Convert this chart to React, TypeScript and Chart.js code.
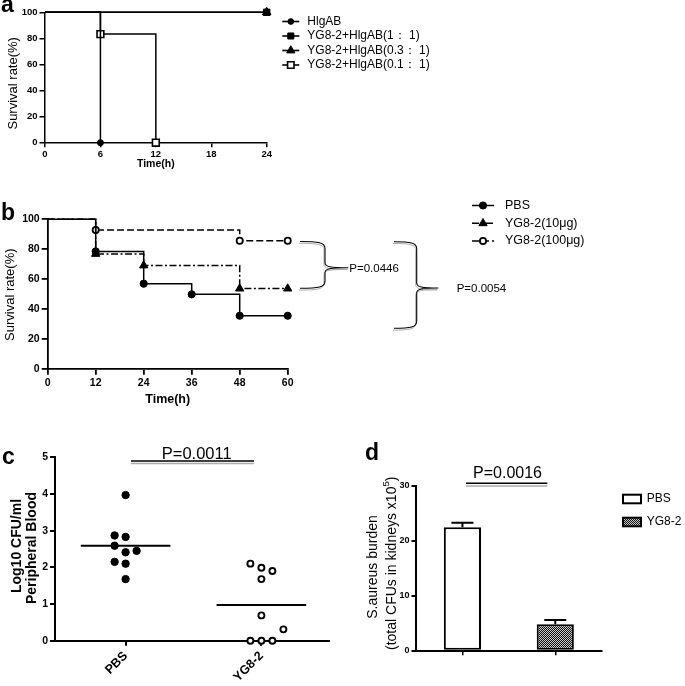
import React, { useEffect, useRef } from 'react';
import { Chart, registerables } from 'chart.js';
Chart.register(...registerables);

const FONT = "'Liberation Sans', Arial, Helvetica, sans-serif";

// ---------------- Panel a data ----------------
const aTimeStep = 6;
const aLabels = ['HlgAB', 'YG8-2+HlgAB(1： 1)', 'YG8-2+HlgAB(0.3： 1)', 'YG8-2+HlgAB(0.1： 1)'];
const aHlgABTime = [0, 6];
const aHlgABSurv = [100, 0];
const a11Time = [0, 24];
const a11Surv = [100, 100];
const a03Time = [0, 24];
const a03Surv = [100, 100];
const a01Time = [0, 6, 12];
const a01Surv = [100, 83.3, 0];

// ---------------- Panel b data ----------------
const bLabels = ['PBS', 'YG8-2(10μg)', 'YG8-2(100μg)'];
const bPBSTime = [0, 12, 24, 36, 48, 60];
const bPBSSurv = [100, 78.6, 57.1, 50, 35.7, 35.7];
const b10Time = [0, 12, 24, 48, 60];
const b10Surv = [100, 76.9, 69.2, 53.8, 53.8];
const b100Time = [0, 12, 48, 60];
const b100Surv = [100, 92.9, 85.7, 85.7];
const bPvals = ['P=0.0446', 'P=0.0054'];

// ---------------- Panel c data ----------------
const cGroups = ['PBS', 'YG8-2'];
const cPBS = [3.97, 2.87, 2.83, 2.59, 2.41, 2.45, 2.15, 2.1, 1.68];
const cPBSCol = [0, -1, 0, -1, 0, 1, -1, 0, 0];
const cYG = [2.1, 1.99, 1.9, 1.68, 0.69, 0.31, 0, 0, 0];
const cYGCol = [-1, 0, 1, 0, 0, 2, -1, 0, 1];
const cMeans = [2.59, 0.97];
const cPval = 'P=0.0011';

// ---------------- Panel d data ----------------
const dGroups = ['PBS', 'YG8-2'];
const dMeans = [22.5, 4.8];
const dSEM = [0.8, 0.8];
const dPval = 'P=0.0016';

// ---------------- helpers ----------------
function drawMarker(ctx: any, style: string, x: number, y: number, r: number, filled: boolean, lw: number) {
  ctx.save();
  ctx.beginPath();
  if (style === 'circle') ctx.arc(x, y, r, 0, Math.PI * 2);
  else if (style === 'rect') {
    const s = r * Math.SQRT1_2;
    ctx.rect(x - s, y - s, 2 * s, 2 * s);
  } else if (style === 'triangle') {
    let a = 0;
    ctx.moveTo(x + Math.sin(a) * r, y - Math.cos(a) * r);
    a += (2 * Math.PI) / 3;
    ctx.lineTo(x + Math.sin(a) * r, y - Math.cos(a) * r);
    a += (2 * Math.PI) / 3;
    ctx.lineTo(x + Math.sin(a) * r, y - Math.cos(a) * r);
    ctx.closePath();
  }
  ctx.fillStyle = filled ? '#000' : '#fff';
  ctx.fill();
  ctx.lineWidth = lw;
  ctx.strokeStyle = '#000';
  ctx.stroke();
  ctx.restore();
}

function km(label: string, times: number[], survs: number[], style: string, filled: boolean, r: number, bw: number, dash: number[], lw = 1.5) {
  return {
    label,
    data: times.map((t, i) => ({ x: t, y: survs[i] })),
    stepped: 'before',
    borderColor: '#000',
    borderWidth: lw,
    borderDash: dash,
    pointStyle: style,
    pointRadius: times.map((_, i) => (i === 0 ? 0 : r)),
    pointHoverRadius: 0,
    pointBackgroundColor: filled ? '#000' : '#fff',
    pointBorderColor: '#000',
    pointBorderWidth: bw,
    fill: false,
    clip: false,
    _style: style,
    _filled: filled,
    _r: r,
    _bw: bw,
  };
}

function ax(size: number, tickLen: number, pad: number, bw: number, extraTicks: any = {}) {
  return {
    grid: { display: true, drawOnChartArea: false, drawTicks: true, tickLength: tickLen, color: '#000', lineWidth: bw },
    border: { display: true, color: '#000', width: bw },
    ticks: { color: '#000', font: { family: FONT, size, weight: 'bold' }, padding: pad, autoSkip: false, ...extraTicks },
  };
}

function annot(ox: number, oy: number, fn: (ctx: any, chart: any) => void) {
  return {
    id: 'annot',
    afterDraw(chart: any) {
      const ctx = chart.ctx;
      ctx.save();
      ctx.translate(-ox, -oy);
      fn(ctx, chart);
      ctx.restore();
    },
  };
}

function text(ctx: any, s: string, x: number, y: number, font: string, align = 'left', baseline = 'middle') {
  ctx.save();
  ctx.font = font;
  ctx.fillStyle = '#000';
  ctx.textAlign = align;
  ctx.textBaseline = baseline;
  ctx.fillText(s, x, y);
  ctx.restore();
}

function vText(ctx: any, s: string, x: number, y: number, font: string) {
  ctx.save();
  ctx.translate(x, y);
  ctx.rotate(-Math.PI / 2);
  ctx.font = font;
  ctx.fillStyle = '#000';
  ctx.textAlign = 'center';
  ctx.textBaseline = 'middle';
  ctx.fillText(s, 0, 0);
  ctx.restore();
}

function line(ctx: any, x1: number, y1: number, x2: number, y2: number, color: string, lw: number, dash: number[] = []) {
  ctx.save();
  ctx.beginPath();
  ctx.setLineDash(dash);
  ctx.moveTo(x1, y1);
  ctx.lineTo(x2, y2);
  ctx.strokeStyle = color;
  ctx.lineWidth = lw;
  ctx.stroke();
  ctx.restore();
}

function bracePath(ctx: any, xl: number, yt: number, yb: number, xs: number, xt: number, yTip: number) {
  ctx.beginPath();
  ctx.moveTo(xl, yt);
  ctx.bezierCurveTo(xs - 6, yt, xs, yt + 1, xs, yt + 7);
  ctx.lineTo(xs, yTip - 5);
  ctx.bezierCurveTo(xs, yTip - 1, xs + 5, yTip, xt, yTip);
  ctx.bezierCurveTo(xs + 5, yTip, xs, yTip + 1, xs, yTip + 5);
  ctx.lineTo(xs, yb - 7);
  ctx.bezierCurveTo(xs, yb - 1, xs - 6, yb, xl, yb);
  ctx.stroke();
}

function brace(ctx: any, xl: number, yt: number, yb: number, xs: number, xt: number, yTip: number) {
  ctx.save();
  ctx.translate(-1, 1.8);
  ctx.strokeStyle = '#aaa';
  ctx.lineWidth = 1;
  bracePath(ctx, xl, yt, yb, xs, xt, yTip);
  ctx.restore();
  ctx.save();
  ctx.strokeStyle = '#000';
  ctx.lineWidth = 1.1;
  bracePath(ctx, xl, yt, yb, xs, xt, yTip);
  ctx.restore();
}

function panelLabel(ctx: any, s: string, x: number, y: number) {
  text(ctx, s, x, y, `bold 23px ${FONT}`, 'left', 'alphabetic');
}

const baseOpts = {
  responsive: false,
  animation: false,
  events: [],
  plugins: { legend: { display: false }, tooltip: { enabled: false } },
};

// ---------------- Panel a ----------------
function configA(): any {
  const ds = [
    km(aLabels[0], aHlgABTime, aHlgABSurv, 'circle', true, 3, 1, []),
    km(aLabels[2], a03Time, a03Surv, 'triangle', true, 5, 1, []),
    km(aLabels[1], a11Time, a11Surv, 'rect', true, 4.5, 1, []),
    km(aLabels[3], a01Time, a01Surv, 'rect', false, 4.8, 1.6, []),
  ];
  const legendOrder = [0, 2, 1, 3];
  const legY = [21.5, 36, 50.5, 65];
  return {
    type: 'line',
    data: { datasets: ds },
    options: {
      ...baseOpts,
      layout: { padding: { left: 0, top: 12.3, right: 418.3, bottom: 0 } },
      scales: {
        x: {
          type: 'linear', min: 0, max: 24,
          ...ax(9.5, 4.5, 1, 1.5, { stepSize: aTimeStep, maxRotation: 0 }),
          afterFit: (s: any) => { s.height = 32.3; },
        },
        y: {
          type: 'linear', min: 0, max: 100,
          ...ax(9.5, 5.5, 2, 1.5, { stepSize: 20 }),
          afterFit: (s: any) => { s.width = 45; },
        },
      },
    },
    plugins: [annot(0, 0, (ctx) => {
      panelLabel(ctx, 'a', 1, 12);
      vText(ctx, 'Survival rate(%)', 13.3, 83.3, `13px ${FONT}`);
      text(ctx, 'Time(h)', 155.8, 164, `bold 10.5px ${FONT}`, 'center');
      legendOrder.forEach((di, k) => {
        const d: any = ds[di];
        const y = legY[k];
        line(ctx, 282.3, y, 299.3, y, '#000', 1.6);
        drawMarker(ctx, d._style, 290.8, y, d._r * 0.95, d._filled, d._bw);
        text(ctx, d.label, 307.3, y, `12px ${FONT}`);
      });
    })],
  };
}

// ---------------- Panel b ----------------
function configB(): any {
  const dashes = [[], [7, 2.5, 2, 2.5], [7, 3]];
  const ds = [
    km(bLabels[0], bPBSTime, bPBSSurv, 'circle', true, 3.6, 1, dashes[0]),
    km(bLabels[1], b10Time, b10Surv, 'triangle', true, 4.8, 1, dashes[1]),
    km(bLabels[2], b100Time, b100Surv, 'circle', false, 3.1, 1.8, dashes[2]),
  ];
  const OY = 175;
  const legY = [205.5, 223.3, 241];
  return {
    type: 'line',
    data: { datasets: ds },
    options: {
      ...baseOpts,
      layout: { padding: { left: 0, top: 219.3 - OY, right: 685 - 287.7, bottom: 0 } },
      scales: {
        x: {
          type: 'linear', min: 0, max: 60,
          ...ax(10.5, 5.5, 2, 1.8, { stepSize: 12, maxRotation: 0 }),
          afterFit: (s: any) => { s.height = 235 - (369.3 - OY); },
        },
        y: {
          type: 'linear', min: 0, max: 100,
          ...ax(10.5, 6, 2, 1.8, { stepSize: 20 }),
          afterFit: (s: any) => { s.width = 47.7; },
        },
      },
    },
    plugins: [annot(0, OY, (ctx) => {
      panelLabel(ctx, 'b', 1, 220);
      vText(ctx, 'Survival rate(%)', 10.5, 294.7, `13px ${FONT}`);
      text(ctx, 'Time(h)', 167.7, 400, `bold 12.5px ${FONT}`, 'center');
      ds.forEach((d: any, k) => {
        const y = legY[k];
        line(ctx, 472, y, 494, y, '#000', 1.5, dashes[k]);
        drawMarker(ctx, d._style, 483, y, d._r, d._filled, d._bw);
        text(ctx, bLabels[k], 505, y, `12.5px ${FONT}`);
      });
      brace(ctx, 300, 241.5, 288.3, 325, 348.3, 267.7);
      brace(ctx, 394, 241.7, 328.3, 416.7, 438.3, 288);
      text(ctx, bPvals[0], 349.3, 272, `11.5px ${FONT}`, 'left', 'alphabetic');
      text(ctx, bPvals[1], 456.7, 291.7, `11.5px ${FONT}`, 'left', 'alphabetic');
    })],
  };
}

// ---------------- Panel c ----------------
function configC(): any {
  const OY = 410;
  const J = 0.081;
  const half = 0.33;
  const meanLine = (g: number, m: number) => [{ x: g - half, y: m }, { x: g + half, y: m }];
  return {
    type: 'scatter',
    data: {
      datasets: [
        { type: 'line', data: meanLine(1, cMeans[0]), borderColor: '#000', borderWidth: 2, pointRadius: 0, clip: false, showLine: true },
        { type: 'line', data: meanLine(2, cMeans[1]), borderColor: '#000', borderWidth: 2, pointRadius: 0, clip: false, showLine: true },
        {
          data: cPBS.map((v, i) => ({ x: 1 + cPBSCol[i] * J, y: v })),
          pointRadius: 3.7, pointBackgroundColor: '#000', pointBorderColor: '#000', pointBorderWidth: 1, clip: false, pointHoverRadius: 0,
        },
        {
          data: cYG.map((v, i) => ({ x: 2 + cYGCol[i] * J, y: v })),
          pointRadius: 3, pointBackgroundColor: '#fff', pointBorderColor: '#000', pointBorderWidth: 1.9, clip: false, pointHoverRadius: 0,
        },
      ],
    },
    options: {
      ...baseOpts,
      layout: { padding: { left: 0, top: 457.3 - OY, right: 335 - 329.3, bottom: 0 } },
      scales: {
        x: {
          type: 'linear', min: 0.48, max: 2.5,
          ...ax(12.5, 5, 3, 2, { minRotation: 45, maxRotation: 45, callback: (v: number) => cGroups[Math.round(v) - 1] }),
          afterBuildTicks: (s: any) => { s.ticks = cGroups.map((_, i) => ({ value: i + 1 })); },
          afterFit: (s: any) => { s.height = 276 - (640.7 - OY); },
        },
        y: {
          type: 'linear', min: 0, max: 5,
          ...ax(10.5, 5, 2, 2, { stepSize: 1 }),
          afterFit: (s: any) => { s.width = 55; },
        },
      },
    },
    plugins: [annot(0, OY, (ctx) => {
      panelLabel(ctx, 'c', 2, 463.5);
      vText(ctx, 'Log10 CFU/ml', 16.7, 546, `bold 14px ${FONT}`);
      vText(ctx, 'Peripheral Blood', 31.7, 548, `bold 14px ${FONT}`);
      text(ctx, cPval, 196.7, 458.5, `16.5px ${FONT}`, 'center', 'alphabetic');
      line(ctx, 131, 461, 254, 461, '#000', 1.5);
      line(ctx, 131, 463.6, 254, 463.6, '#aaa', 1.5);
    })],
  };
}

// ---------------- Panel d ----------------
function configD(pattern: any): any {
  const OX = 335;
  const OY = 410;
  return {
    type: 'bar',
    data: {
      labels: dGroups,
      datasets: [{
        data: dMeans,
        backgroundColor: ['#fff', pattern],
        borderColor: '#000',
        borderWidth: 2,
        borderSkipped: false,
        barPercentage: 0.4,
        categoryPercentage: 1,
      }],
    },
    options: {
      ...baseOpts,
      layout: { padding: { left: 0, top: 486 - OY, right: 350 - (601.7 - OX), bottom: 0 } },
      scales: {
        x: {
          type: 'category',
          ...ax(9, 4.5, 2, 2, { display: false }),
          grid: { display: true, drawOnChartArea: false, drawTicks: true, tickLength: 4.5, color: '#000', lineWidth: 1.5, offset: false },
          afterFit: (s: any) => { s.height = 276 - (650.7 - OY); },
        },
        y: {
          type: 'linear', min: 0, max: 30,
          ...ax(9, 4.5, 2, 2, { stepSize: 10 }),
          afterFit: (s: any) => { s.width = 416 - OX; },
        },
      },
    },
    plugins: [{
      id: 'errbars',
      afterDatasetsDraw(chart: any) {
        const ctx = chart.ctx;
        const meta = chart.getDatasetMeta(0);
        const ys = chart.scales.y;
        meta.data.forEach((bar: any, i: number) => {
          const yErr = ys.getPixelForValue(dMeans[i] + dSEM[i]);
          ctx.save();
          ctx.strokeStyle = '#000';
          ctx.lineWidth = 2;
          ctx.beginPath();
          ctx.moveTo(bar.x, bar.y);
          ctx.lineTo(bar.x, yErr);
          ctx.moveTo(bar.x - 11, yErr);
          ctx.lineTo(bar.x + 11, yErr);
          ctx.stroke();
          ctx.restore();
        });
      },
    }, annot(OX, OY, (ctx) => {
      panelLabel(ctx, 'd', 365, 460);
      vText(ctx, 'S.aureus burden', 373, 567, `14px ${FONT}`);
      // second line with superscript
      ctx.save();
      ctx.translate(391.7, 563.3);
      ctx.rotate(-Math.PI / 2);
      ctx.fillStyle = '#000';
      ctx.textBaseline = 'middle';
      const f1 = `14px ${FONT}`;
      const f2 = `9.5px ${FONT}`;
      const s1 = '(total CFUs in kidneys x10';
      const s2 = '5';
      const s3 = ')';
      ctx.font = f1;
      const w1 = ctx.measureText(s1).width;
      const w3 = ctx.measureText(s3).width;
      ctx.font = f2;
      const w2 = ctx.measureText(s2).width;
      const total = w1 + w2 + w3;
      let x = -total / 2;
      ctx.font = f1; ctx.textAlign = 'left';
      ctx.fillText(s1, x, 0); x += w1;
      ctx.font = f2; ctx.fillText(s2, x, -5); x += w2;
      ctx.font = f1; ctx.fillText(s3, x, 0);
      ctx.restore();

      text(ctx, dPval, 507.5, 477.5, `16px ${FONT}`, 'center', 'alphabetic');
      line(ctx, 466, 483.3, 547.3, 483.3, '#000', 1.5);
      line(ctx, 466, 485.9, 547.3, 485.9, '#aaa', 1.5);

      // legend
      const legY = [499, 522];
      legY.forEach((y, k) => {
        ctx.save();
        ctx.fillStyle = k === 0 ? '#fff' : pattern;
        ctx.fillRect(623, y - 4.3, 18, 8.6);
        ctx.strokeStyle = '#000';
        ctx.lineWidth = 2;
        ctx.strokeRect(623, y - 4.3, 18, 8.6);
        ctx.restore();
        text(ctx, dGroups[k], 646.7, y, `12px ${FONT}`);
      });
    })],
  };
}

export default function App() {
  const refA = useRef<HTMLCanvasElement>(null);
  const refB = useRef<HTMLCanvasElement>(null);
  const refC = useRef<HTMLCanvasElement>(null);
  const refD = useRef<HTMLCanvasElement>(null);

  useEffect(() => {
    const charts: Chart[] = [];
    const pc = document.createElement('canvas');
    pc.width = 2;
    pc.height = 2;
    const pctx = pc.getContext('2d')!;
    pctx.fillStyle = '#c8c8c8';
    pctx.fillRect(0, 0, 2, 2);
    pctx.fillStyle = '#111';
    pctx.fillRect(0, 0, 1, 1);
    pctx.fillRect(1, 1, 1, 1);
    const pattern = refD.current!.getContext('2d')!.createPattern(pc, 'repeat');

    charts.push(new Chart(refA.current!, configA()));
    charts.push(new Chart(refB.current!, configB()));
    charts.push(new Chart(refC.current!, configC()));
    charts.push(new Chart(refD.current!, configD(pattern)));
    return () => charts.forEach((c) => c.destroy());
  }, []);

  const abs = (l: number, t: number): React.CSSProperties => ({ position: 'absolute', left: l, top: t });
  return (
    <div style={{ position: 'absolute', left: 0, top: 0, width: 685, height: 686, background: '#fff', overflow: 'hidden' }}>
      <canvas ref={refA} width={685} height={175} style={abs(0, 0)} />
      <canvas ref={refB} width={685} height={235} style={abs(0, 175)} />
      <canvas ref={refC} width={335} height={276} style={abs(0, 410)} />
      <canvas ref={refD} width={350} height={276} style={abs(335, 410)} />
    </div>
  );
}
